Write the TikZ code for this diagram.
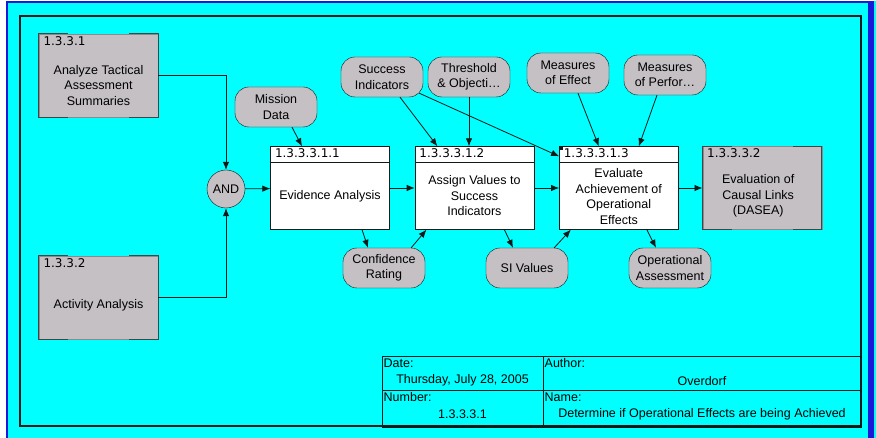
\documentclass[tikz,border=0pt]{standalone}
\usepackage{fontspec}
\setmainfont{Liberation Sans}
\newfontfamily\numfont{DejaVu Sans}
\usepackage{xcolor}
\usepackage{tikz}
\usetikzlibrary{arrows.meta,positioning}
\definecolor{ink}{HTML}{101818}
\definecolor{bgcyan}{HTML}{00FFFF}
\definecolor{edgeblue}{HTML}{1818D8}
\definecolor{boxgray}{HTML}{C4C0C4}
\definecolor{boxedge}{HTML}{8C888C}
\newcommand{\txtfont}{\fontsize{12.5}{15.5}\selectfont}

\begin{document}
\begin{tikzpicture}[x=1pt, y=-1pt,
      pbox/.style={draw=ink, fill=white, minimum width=119pt, minimum height=83pt, inner sep=0pt},
      gbox/.style={draw=boxedge, fill=boxgray, minimum width=119pt, minimum height=83pt, inner sep=0pt},
      rim/.style={draw=ink!80, line width=0.9pt},
      data/.style={draw=ink, fill=boxgray, rounded corners=14pt, minimum width=82pt, minimum height=40pt, inner sep=0pt, align=center, font=\txtfont},
      num/.style={anchor=north west, inner xsep=4.5pt, inner ysep=2.5pt, font=\numfont\fontsize{12}{13}\selectfont},
      txt/.style={align=center, inner sep=0pt, font=\txtfont},
      tag/.style={anchor=north west, inner sep=1.5pt, font=\txtfont},
      cell/.style={draw=ink, line width=1pt, inner sep=0pt, outer sep=0pt, anchor=north west},
      arr/.style={-{Latex[length=8pt,width=6.5pt]}, draw=ink, line width=0.8pt}
    ]
    % background and frames
    \useasboundingbox (0,0) rectangle (876,438);
    \fill[white] (0,0) rectangle (876,438);
    \fill[bgcyan] (6,1) rectangle (876,438);
    \fill[edgeblue] (6,1) rectangle (8,438);
    \fill[edgeblue] (6,1) rectangle (874,3);
    \fill[edgeblue] (868,1) rectangle (874,438);
    \draw[ink, line width=2pt] (20,16) rectangle (861,426);

    % activities
    \node[gbox] (tac) at (98.5,75.5) {};
    \node[num] (tacnum) at (tac.north west) {1.3.3.1};
    \node[txt] (tactxt) at ([yshift=-10pt]tac.center) {Analyze Tactical\\Assessment\\Summaries};

    \node[gbox] (act) at (98.5,297.5) {};
    \node[num] (actnum) at (act.north west) {1.3.3.2};
    \node[txt] (acttxt) at ([yshift=-8pt]act.center) {Activity Analysis};

    \node[draw=ink, fill=boxgray, circle, minimum size=38pt, inner sep=0pt, font=\txtfont] (and) at (226,189) {AND};

    \node[pbox] (evid) at (330,188) {};
    \node[pbox, right=25pt of evid] (assign) {};
    \node[pbox, right=25pt of assign] (eval) {};
    \node[gbox, right=24pt of eval] (dasea) {};

    % dark corners of the grey boxes
    \draw[rim] ([xshift=29pt]tac.north west) -- (tac.north west) -- (tac.south west) -- ([xshift=29pt]tac.south west);
    \draw[rim] ([xshift=-29pt]tac.north east) -- (tac.north east) -- (tac.south east) -- ([xshift=-29pt]tac.south east);
    \draw[rim] ([xshift=29pt]act.north west) -- (act.north west) -- (act.south west) -- ([xshift=29pt]act.south west);
    \draw[rim] ([xshift=-29pt]act.north east) -- (act.north east) -- (act.south east) -- ([xshift=-29pt]act.south east);
    \draw[rim] ([xshift=29pt]dasea.north west) -- (dasea.north west) -- (dasea.south west) -- ([xshift=29pt]dasea.south west);
    \draw[rim] ([xshift=-29pt]dasea.north east) -- (dasea.north east) -- (dasea.south east) -- ([xshift=-29pt]dasea.south east);

    \draw[ink] ([yshift=-16pt]evid.north west) -- ([yshift=-16pt]evid.north east);
    \draw[ink] ([yshift=-16pt]assign.north west) -- ([yshift=-16pt]assign.north east);
    \draw[ink] ([yshift=-16pt]eval.north west) -- ([yshift=-16pt]eval.north east);
    \fill[ink] (eval.north west) rectangle ++(4,4);

    \node[num] (evidnum) at (evid.north west) {1.3.3.3.1.1};
    \node[txt] (evidtxt) at ([yshift=-8pt]evid.center) {Evidence Analysis};
    \node[num] (assignnum) at (assign.north west) {1.3.3.3.1.2};
    \node[txt] (assigntxt) at ([yshift=-8pt]assign.center) {Assign Values to\\Success\\Indicators};
    \node[num] (evalnum) at (eval.north west) {1.3.3.3.1.3};
    \node[txt] (evaltxt) at ([yshift=-8.5pt]eval.center) {Evaluate\\Achievement of\\Operational\\Effects};
    \node[num] (daseanum) at (dasea.north west) {1.3.3.3.2};
    \node[txt] (daseatxt) at ([shift={(-4pt,-8pt)}]dasea.center) {Evaluation of\\Causal Links\\(DASEA)};

    % data items
    \node[data] (mission) at (276,107) {Mission\\Data};
    \node[data] (succ) at (382,77) {Success\\Indicators};
    \node[data] (thresh) at (469,77) {Threshold\\\& Objecti\ldots};
    \node[data] (moe) at (568,73) {Measures\\of Effect};
    \node[data] (mop) at (665,75) {Measures\\of Perfor\ldots};
    \node[data] (conf) at (384,268) {Confidence\\Rating};
    \node[data] (siv) at (527,268) {SI Values};
    \node[data] (opas) at (670,268) {Operational\\Assessment};

    % title block
    \node[cell, minimum width=161pt, minimum height=34pt] (date) at (382,357) {};
    \node[cell, minimum width=318pt, minimum height=34pt, right=0pt of date] (author) {};
    \node[cell, minimum width=161pt, minimum height=36pt, below=0pt of date] (number) {};
    \node[cell, minimum width=318pt, minimum height=36pt, right=0pt of number] (name) {};
    \node[tag] (datetag) at (date.north west) {Date:};
    \node[txt] (dateval) at ([yshift=-6pt]date.center) {Thursday, July 28, 2005};
    \node[tag] (authortag) at (author.north west) {Author:};
    \node[txt] (authorval) at ([yshift=-7pt]author.center) {Overdorf};
    \node[tag] (numbertag) at (number.north west) {Number:};
    \node[txt] (numberval) at ([yshift=-5pt]number.center) {1.3.3.3.1};
    \node[tag] (nametag) at (name.north west) {Name:};
    \node[txt] (nameval) at ([yshift=-5pt]name.center) {Determine if Operational Effects are being Achieved};

    % connectors
    \draw[arr] (tac.east) -| (and.north);
    \draw[arr] (act.east) -| (and.south);
    \draw[arr] (and) -- (evid);
    \draw[arr] (evid) -- (assign);
    \draw[arr] (assign) -- (eval);
    \draw[arr] (eval) -- (dasea);
    \draw[arr] ([xshift=16pt]mission.south) -- ([xshift=-28pt]evid.north);
    \draw[arr] ([xshift=18pt]succ.south) -- ([xshift=-37pt]assign.north);
    \draw[arr] ([shift={(-4pt,4pt)}]succ.south east) -- ([yshift=-10pt]eval.north west);
    \draw[arr] (thresh.south) -- (thresh.south |- assign.north);
    \draw[arr] ([xshift=10pt]moe.south) -- ([xshift=-20pt]eval.north);
    \draw[arr] ([xshift=-8pt]mop.south) -- ([xshift=20pt]eval.north);
    \draw[arr] ([xshift=32pt]evid.south) -- ([xshift=-16pt]conf.north);
    \draw[arr] ([xshift=-14pt]conf.north east) -- ([xshift=-48pt]assign.south);
    \draw[arr] ([xshift=30pt]assign.south) -- ([xshift=-14pt]siv.north);
    \draw[arr] ([xshift=-14pt]siv.north east) -- ([xshift=-48pt]eval.south);
    \draw[arr] ([xshift=28pt]eval.south) -- ([xshift=-14pt]opas.north);
  \end{tikzpicture}
\end{document}
